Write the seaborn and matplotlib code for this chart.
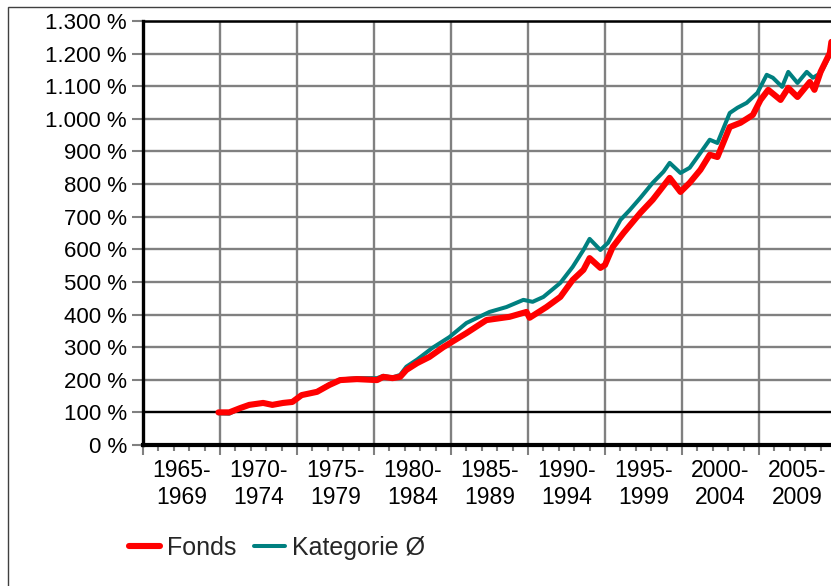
import numpy as np
import pandas as pd
import matplotlib
matplotlib.use("Agg")
import matplotlib.pyplot as plt
import seaborn as sns
from matplotlib.ticker import FixedLocator, FuncFormatter
from matplotlib.patches import Rectangle
from matplotlib.lines import Line2D

# ---------------- data ----------------
fonds_years = [1969.9, 1970.6, 1971.3, 1971.9, 1972.8, 1973.4, 1974.1, 1974.7, 1975.3, 1976.3,
               1977.1, 1977.8, 1978.9, 1980.2, 1980.6, 1981.2, 1981.7, 1982.1, 1982.8, 1983.6,
               1984.5, 1986.0, 1987.3, 1988.8, 1989.9, 1990.1, 1991.2, 1992.1, 1992.9, 1993.6,
               1994.0, 1994.7, 1995.0, 1995.5, 1996.2, 1997.3, 1998.1, 1999.2, 1999.9, 2000.5,
               2001.2, 2001.8, 2002.3, 2003.1, 2003.8, 2004.6, 2005.1, 2005.6, 2006.4, 2006.9,
               2007.5, 2008.3, 2008.6, 2009.0, 2009.6, 2009.7]
fonds_vals = [100, 100, 113, 123, 129, 123, 129, 132, 153, 163,
              184, 199, 202, 199, 209, 205, 209, 230, 251, 270,
              300, 343, 383, 393, 408, 390, 423, 454, 506, 537,
              573, 543, 552, 607, 650, 712, 752, 819, 776, 804,
              844, 890, 883, 975, 988, 1012, 1058, 1089, 1058, 1095,
              1067, 1113, 1089, 1144, 1202, 1236]

kat_years = [1969.9, 1970.6, 1971.3, 1971.9, 1972.8, 1973.4, 1974.1, 1974.7, 1975.3, 1976.3,
             1977.1, 1977.8, 1978.9, 1980.2, 1980.6, 1981.2, 1981.7, 1982.1, 1982.8, 1983.8,
             1984.9, 1986.0, 1987.5, 1988.6, 1989.7, 1990.3, 1991.0, 1992.1, 1992.9, 1993.6,
             1994.0, 1994.7, 1995.2, 1996.0, 1996.6, 1997.3, 1998.1, 1998.8, 1999.2, 1999.9,
             2000.5, 2001.2, 2001.8, 2002.3, 2003.1, 2003.6, 2004.2, 2004.9, 2005.5, 2005.9,
             2006.5, 2006.9, 2007.5, 2008.1, 2008.5, 2009.0, 2009.6, 2009.7]
kat_vals = [97, 96, 112, 122, 128, 122, 128, 131, 152, 164,
            186, 201, 205, 205, 212, 207, 215, 240, 262, 298,
            331, 374, 408, 423, 445, 439, 454, 497, 546, 598,
            632, 598, 620, 690, 720, 758, 804, 838, 865, 834,
            850, 896, 936, 926, 1018, 1034, 1049, 1080, 1135, 1126,
            1098, 1144, 1110, 1144, 1126, 1140, 1195, 1225]

y_ticks = list(range(0, 1301, 100))
period_starts = list(range(1965, 2010, 5))
period_labels_top = [f"{y}-" for y in period_starts]
period_labels_bot = [f"{y + 4}" for y in period_starts]
series_names = ["Fonds", "Kategorie Ø"]

# ---------------- styling ----------------
sns.set_theme(style="white")
plt.rcParams['font.family'] = ['Liberation Sans', 'DejaVu Sans']

W, H = 831, 586
fig = plt.figure(figsize=(W / 100, H / 100), dpi=100)
fig.patch.set_facecolor("white")

px_per_year = 77 / 5.0
x0 = 1965
x1 = x0 + (W - 143) / px_per_year
ax = fig.add_axes([143 / W, 1 - 445 / H, (W - 143) / W, (445 - 21) / H])
ax.set_facecolor("white")

RED = "#ff0000"
TEAL = "#008080"
GRID = "#808080"

df_k = pd.DataFrame({"Jahr": kat_years, "Wert": kat_vals})
df_f = pd.DataFrame({"Jahr": fonds_years, "Wert": fonds_vals})
sns.lineplot(data=df_k, x="Jahr", y="Wert", ax=ax, color=TEAL, linewidth=2.9, zorder=3)
sns.lineplot(data=df_f, x="Jahr", y="Wert", ax=ax, color=RED, linewidth=4.4, zorder=4)

ax.set_xlim(x0, x1)
ax.set_ylim(0, 1300)
ax.set_xlabel("")
ax.set_ylabel("")

ax.yaxis.set_major_locator(FixedLocator(y_ticks))
ax.yaxis.set_major_formatter(FuncFormatter(lambda v, p: f"{int(v):,}".replace(",", ".") + " %"))
ax.xaxis.set_major_locator(FixedLocator(period_starts))
ax.xaxis.set_minor_locator(FixedLocator(list(range(1965, 2010))))
ax.set_xticklabels([])

ax.tick_params(axis="y", which="major", direction="out", length=8, width=1.5, color=GRID,
               labelsize=16, pad=3.5, left=True, labelcolor="black")
ax.tick_params(axis="x", which="major", direction="out", length=7.5, width=1.5, color=GRID, bottom=True)
ax.tick_params(axis="x", which="minor", direction="out", length=4.5, width=1.5, color=GRID, bottom=True)

ax.set_axisbelow(True)
ax.grid(True, axis="both", which="major", color=GRID, linewidth=1.7)
ax.axhline(100, color="black", linewidth=1.6, zorder=2)

for side in ["left", "bottom", "top", "right"]:
    ax.spines[side].set_color("black")
ax.spines["left"].set_linewidth(2.4)
ax.spines["bottom"].set_linewidth(3.0)
ax.spines["top"].set_linewidth(1.8)
ax.spines["right"].set_visible(False)

for s, t, b in zip(period_starts, period_labels_top, period_labels_bot):
    c = s + 2.5
    ax.annotate(t, xy=(c, 0), xycoords=("data", "axes fraction"), xytext=(0, -18.5),
                textcoords="offset points", ha="center", va="center", fontsize=16.5, color="black",
                annotation_clip=False)
    ax.annotate(b, xy=(c, 0), xycoords=("data", "axes fraction"), xytext=(0, -38),
                textcoords="offset points", ha="center", va="center", fontsize=16.5, color="black",
                annotation_clip=False)

handles = [Line2D([0], [0], color=RED, linewidth=4.4, solid_capstyle="round"),
           Line2D([0], [0], color=TEAL, linewidth=2.9, solid_capstyle="round")]
fig.legend(handles, series_names, loc="center left", bbox_to_anchor=(129 / W, 1 - 548 / H),
           ncol=2, frameon=False, borderpad=0, borderaxespad=0, fontsize=18,
           handlelength=1.24, handletextpad=0.28, columnspacing=0.72)

fig.add_artist(Rectangle((8 / W, -0.1), 2, 1 - 7 / H + 0.1, transform=fig.transFigure,
                         fill=False, edgecolor="#404040", linewidth=1.0))

fig.savefig("out.png", dpi=100, facecolor="white")
